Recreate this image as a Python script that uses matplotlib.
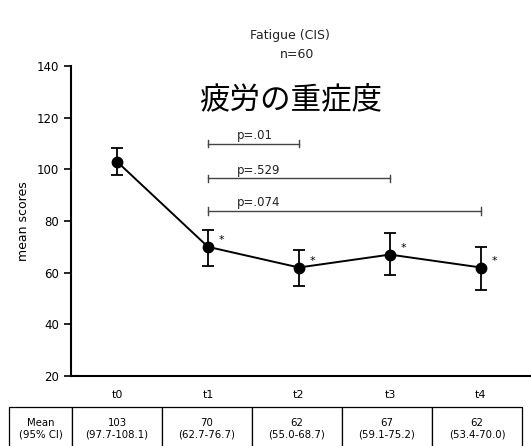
import numpy as np
import matplotlib
matplotlib.use("Agg")
import matplotlib.pyplot as plt

plt.rcParams['font.family'] = ['DejaVu Sans', 'Noto Sans CJK JP']

# -------------------------
# dados
# -------------------------
tempos = ["t0", "t1", "t2", "t3", "t4"]
medias = [103, 70, 62, 67, 62]
ic_baixo = [97.7, 62.7, 55.0, 59.1, 53.4]
ic_alto = [108.1, 76.7, 68.7, 75.2, 70.0]
marcados = [False, True, True, True, True]

# comparacoes (de, ate, altura, texto)
comp_de = [1, 1, 1]
comp_ate = [2, 3, 4]
comp_y = [110, 96.5, 84]
comp_txt = ["p=.01", "p=.529", "p=.074"]

yticks = [20, 40, 60, 80, 100, 120, 140]

# -------------------------
# figura
# -------------------------
fig = plt.figure(figsize=(5.31, 4.46), dpi=100)
ax = fig.add_axes([71/531, (446-376)/446, 1 - 71/531, (376-66)/446])

x = np.arange(len(tempos))
med = np.array(medias)
err = [med - np.array(ic_baixo), np.array(ic_alto) - med]

ax.errorbar(x, med, yerr=err, fmt='-o', color='black', lw=1.4,
            ms=7.5, capsize=4, elinewidth=1.3, capthick=1.3)

for i in range(len(x)):
    if marcados[i]:
        ax.text(x[i] + 0.12, med[i] + 2.5, "*", fontsize=8, ha='left', va='center')

# barras de comparacao
for a, b, yy, t in zip(comp_de, comp_ate, comp_y, comp_txt):
    ax.plot([a, b], [yy, yy], color='#444444', lw=1)
    ax.plot([a, a], [yy - 1.5, yy + 1.5], color='#444444', lw=1)
    ax.plot([b, b], [yy - 1.5, yy + 1.5], color='#444444', lw=1)
    ax.text(a + 0.32, yy + 0.5, t, fontsize=8.5, ha='left', va='bottom', color='#222222')

ax.set_xlim(-0.505, 4.55)
ax.set_ylim(20, 140)
ax.set_yticks(yticks)
ax.set_xticks(x)
ax.set_xticklabels(tempos)
ax.tick_params(axis='x', length=0, pad=10, labelsize=8)
ax.tick_params(axis='y', length=5, width=1.2, labelsize=8.5, direction='out')
ax.set_ylabel("mean scores", fontsize=9, labelpad=5)
for s in ['top', 'right']:
    ax.spines[s].set_visible(False)
ax.spines['left'].set_linewidth(1.5)
ax.spines['bottom'].set_linewidth(1.5)

fig.text(290/531, 1 - 35/446, "Fatigue (CIS)", fontsize=9, ha='center', va='center', color='#222222')
fig.text(297/531, 1 - 54/446, "n=60", fontsize=9, ha='center', va='center', color='#222222')
fig.text(291/531, 1 - 100/446, "疲労の重症度", fontsize=22, ha='center', va='center',
         family=['Noto Sans CJK JP', 'DejaVu Sans'])

# -------------------------
# tabela
# -------------------------
tab_ax = fig.add_axes([9/531, -4/446, (522-9)/531, 43/446])
tab_ax.axis('off')
linha = ["Mean\n(95% CI)"] + ["%d\n(%.1f-%.1f)" % (m, lo, hi)
                              for m, lo, hi in zip(medias, ic_baixo, ic_alto)]
larg = [63] + [90] * 5
tot = sum(larg)
tabela = tab_ax.table(cellText=[linha], colWidths=[w / tot for w in larg],
                      cellLoc='center', bbox=[0, 0, 1, 1])
tabela.auto_set_font_size(False)
tabela.set_fontsize(7.3)
for (r, c), cel in tabela.get_celld().items():
    cel.set_linewidth(0.9)

fig.savefig("out.png", dpi=100)
